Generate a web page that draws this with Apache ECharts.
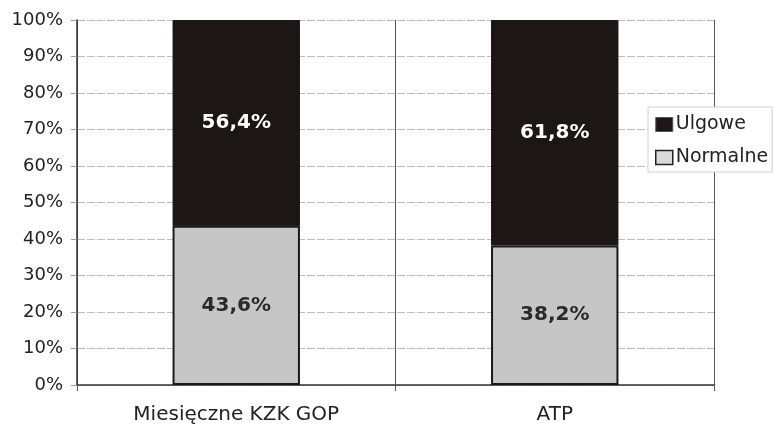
<!DOCTYPE html>
<html>
<head>
<meta charset="utf-8">
<script src="https://cdn.jsdelivr.net/npm/echarts@6/dist/echarts.min.js"></script>
<style>html,body{margin:0;padding:0;background:#fff;}#c{width:773px;height:426px;}</style>
</head>
<body>
<div id="c"></div>
<script>
const categories = ['Miesięczne KZK GOP', 'ATP'];
const ulgowe = [56.4, 61.8];
const normalne = [43.6, 38.2];
const yTicks = [0, 100, 10];

const chart = echarts.init(document.getElementById('c'), null, {renderer: 'canvas'});
const fmt = v => String(v).replace('.', ',') + '%';
const FONT = '"DejaVu Sans", sans-serif';
chart.setOption({
  animation: false,
  backgroundColor: '#ffffff',
  textStyle: {fontFamily: FONT},
  grid: {left: 77, right: 59, top: 20, bottom: 41, containLabel: false},
  legend: {
    orient: 'vertical',
    left: 648, top: 107,
    padding: [8, 4, 5, 7],
    itemGap: 14,
    itemWidth: 17, itemHeight: 14,
    icon: 'rect',
    backgroundColor: '#ffffff',
    borderColor: '#cfcfcf', borderWidth: 1,
    textStyle: {fontSize: 19, fontFamily: FONT, color: '#222', padding: [0, 0, 0, -2]},
    data: [
      {name: 'Ulgowe', itemStyle: {color: '#1c1616', borderColor: '#555', borderWidth: 1}},
      {name: 'Normalne', itemStyle: {color: '#dadada', borderColor: '#222', borderWidth: 1.5}}
    ]
  },
  xAxis: {
    type: 'category',
    data: categories,
    axisLine: {lineStyle: {color: '#333', width: 1.5}},
    axisTick: {show: true, length: 6, lineStyle: {color: '#555'}},
    axisLabel: {fontSize: 20, fontFamily: FONT, color: '#222', margin: 20},
    splitLine: {show: true, lineStyle: {color: '#555', width: 1}}
  },
  yAxis: {
    type: 'value',
    min: yTicks[0], max: yTicks[1], interval: yTicks[2],
    axisLine: {show: true, lineStyle: {color: '#333', width: 1.5}},
    axisTick: {show: true, length: 6, lineStyle: {color: '#999'}},
    axisLabel: {fontSize: 18, fontFamily: FONT, color: '#222', margin: 14, formatter: '{value}%'},
    splitLine: {show: true, lineStyle: {color: '#bdbdbd', width: 1, type: [8, 2]}}
  },
  series: [
    {
      name: 'Normalne', type: 'bar', stack: 'a', barWidth: '40%',
      data: normalne,
      itemStyle: {color: '#c6c6c6', borderColor: '#1a1a1a', borderWidth: 2},
      label: {show: true, position: 'inside', formatter: p => fmt(p.value), fontSize: 20, fontFamily: FONT, fontWeight: 'bold', color: '#2a2a2a'}
    },
    {
      name: 'Ulgowe', type: 'bar', stack: 'a', barWidth: '40%',
      data: ulgowe,
      itemStyle: {color: '#1c1616', borderColor: '#1c1616', borderWidth: 1},
      label: {show: true, position: 'inside', formatter: p => fmt(p.value), fontSize: 20, fontFamily: FONT, fontWeight: 'bold', color: '#ffffff'}
    }
  ]
});
</script>
</body>
</html>
